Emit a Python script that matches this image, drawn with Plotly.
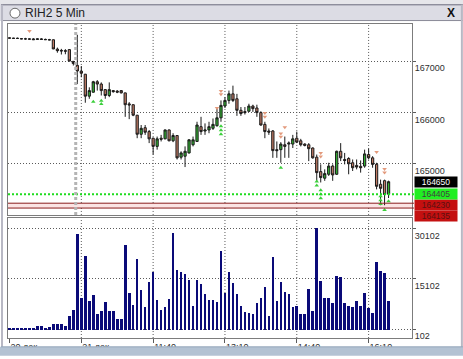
import plotly.graph_objects as go

# ---------------- data ----------------
bar_index = list(range(96))
opens = [167460, 167455, 167450, 167445, 167440, 167440, 167440, 167430, 167440, 167430,
         167425, 167423, 167240, 167215, 167210, 167231, 167000, 166923, 166810, 166750,
         166321, 166398, 166603, 166558, 166449, 166334, 166430, 166420, 166430, 166385,
         166170, 166154, 165949, 165577, 165705, 165629, 165500, 165340, 165500, 165487,
         165661, 165449, 165552, 165129, 165148, 165212, 165372, 165436, 165725, 165640,
         165661, 165693, 165744, 165898, 166129, 166238, 166366, 166270, 166045, 166020,
         166026, 166128, 166090, 166000, 165770, 165640, 165641, 165276, 165276, 165372,
         165385, 165385, 165500, 165449, 165385, 165372, 165308, 165129, 164847, 164718,
         164795, 164955, 164795, 165244, 165084, 165103, 165020, 164968, 164950, 164955,
         165180, 165116, 164990, 164600, 164670, 164405]
highs = [167465, 167460, 167465, 167450, 167460, 167450, 167455, 167450, 167455, 167445,
         167440, 167430, 167270, 167245, 167240, 167240, 167010, 167520, 166910, 166755,
         166494, 166620, 166635, 166590, 166455, 166590, 166440, 166440, 166440, 166390,
         166205, 166160, 165955, 165757, 165757, 165660, 165510, 165532, 165565, 165670,
         165670, 165597, 165560, 165244, 165340, 165480, 165532, 165821, 165917, 165789,
         165821, 165885, 166109, 166238, 166302, 166430, 166526, 166366, 166109, 166109,
         166173, 166154, 166154, 166026, 165821, 165690, 165660, 165436, 165423, 165532,
         165436, 165565, 165629, 165487, 165400, 165404, 165320, 165180, 164988, 164891,
         165020, 164988, 165257, 165404, 165212, 165129, 165084, 165084, 165065, 165276,
         165295, 165148, 165020, 164690, 164690, 164670]
lows = [167450, 167445, 167440, 167435, 167425, 167430, 167420, 167420, 167425, 167420,
        167415, 167240, 167170, 167135, 167140, 167000, 166920, 166558, 166690, 166193,
        166270, 166390, 166430, 166334, 166270, 166302, 166390, 166380, 166375, 165917,
        165872, 165930, 165500, 165500, 165565, 165404, 165180, 165276, 165436, 165480,
        165440, 165423, 165084, 165084, 164936, 165200, 165340, 165430, 165565, 165565,
        165597, 165661, 165725, 165821, 166090, 166173, 166206, 165936, 165936, 165962,
        166013, 166013, 165917, 165744, 165500, 165565, 165116, 165116, 165020, 165116,
        165116, 165308, 165404, 165340, 165340, 165052, 165100, 164667, 164635, 164667,
        164763, 164667, 164782, 165052, 164988, 164795, 164859, 164891, 164827, 164923,
        165084, 164923, 164500, 164190, 164190, 164330]
closes = [167455, 167450, 167450, 167440, 167440, 167435, 167425, 167440, 167430, 167425,
          167420, 167244, 167210, 167205, 167200, 167007, 166960, 166814, 166770, 166321,
          166430, 166603, 166558, 166430, 166334, 166449, 166410, 166400, 166385, 166154,
          166150, 165949, 165577, 165693, 165616, 165487, 165340, 165487, 165480, 165661,
          165449, 165552, 165116, 165212, 165244, 165468, 165468, 165757, 165629, 165660,
          165725, 165770, 165898, 166141, 166238, 166366, 166238, 166045, 165981, 166000,
          166128, 166077, 166000, 165757, 165629, 165620, 165257, 165257, 165385, 165340,
          165404, 165487, 165423, 165372, 165360, 165295, 165116, 164827, 164731, 164808,
          164955, 164782, 165244, 165116, 165065, 165000, 164923, 164936, 164923, 165193,
          165116, 164988, 164560, 164520, 164400, 164650]
volume = [300, 300, 300, 300, 590, 300, 490, 980, 980, 300,
          690, 1770, 1570, 1570, 980, 3920, 5880, 28420, 9510, 21860,
          8630, 10390, 4510, 5690, 8330, 5690, 5690, 3040, 3040, 25380,
          10980, 7450, 20970, 11860, 6860, 14210, 17150, 8920, 5980, 6860,
          9210, 28910, 17740, 17150, 16560, 14800, 7160, 14800, 13630, 10690,
          8920, 8920, 8330, 23330, 10980, 17150, 13920, 10690, 7160, 5390,
          5100, 4510, 8040, 9510, 12740, 3920, 21560, 8630, 14210, 11270,
          10690, 6860, 7160, 4510, 4510, 12160, 5690, 30380, 14510, 9510,
          9510, 8040, 15980, 15680, 8040, 7160, 6860, 8630, 7160, 10980,
          6570, 5100, 20090, 17450, 16860, 8630]

tick_pos = [0, 18, 36, 54, 72, 90]
tick_text = ["20 дек", "21 дек", "11:40", "13:10", "14:40", "16:10"]
price_ticks = [165000, 166000, 167000]
volume_ticks = [102, 15102, 30102]
session_break = 16.6

last_price = 164650
green_level = 164405
red_levels = [164230, 164135]

dn_mark_x = [5, 52, 53, 53, 64, 64, 68, 68, 69, 78, 78, 92, 94, 94]
dn_mark_y = [167596, 166090, 166420, 166360, 165990, 165920, 165590, 165530, 165712,
             165210, 165140, 165230, 164900, 164830]
up_mark_x = [21, 23, 23, 53, 53, 53, 68, 77, 77, 78, 78, 78, 93, 93, 93, 94, 95]
up_mark_y = [166212, 166230, 166170, 165731, 165654, 165577, 164923, 164654, 164577,
             164481, 164404, 164327, 164365, 164288, 164212, 164096, 164270]

# ---------------- figure ----------------
FONT = "Liberation Sans, Arial, sans-serif"
W, H = 463, 359
ML, MR, MT, MB = 7, 51, 24, 16
PW, PH = W - ML - MR, H - MT - MB


def px_x(px):
    return (px - ML) / PW


def px_y(py):
    return (H - MB - py) / PH


grid_dash = "1px,2px"
grid_col = "#5a5a5a"
frame_col = "#7c7c7c"

fig = go.Figure()

fig.add_trace(go.Candlestick(
    x=bar_index, open=opens, high=highs, low=lows, close=closes,
    xaxis="x", yaxis="y", whiskerwidth=0,
    increasing=dict(fillcolor="#33b033", line=dict(color="#1a1a1a", width=1)),
    decreasing=dict(fillcolor="#c07a64", line=dict(color="#1a1a1a", width=1)),
    showlegend=False, hoverinfo="skip"))

fig.add_trace(go.Scatter(
    x=dn_mark_x, y=dn_mark_y, mode="markers", xaxis="x", yaxis="y",
    marker=dict(symbol="triangle-down", size=4, color="#e39a7c"),
    showlegend=False, hoverinfo="skip"))
fig.add_trace(go.Scatter(
    x=up_mark_x, y=up_mark_y, mode="markers", xaxis="x", yaxis="y",
    marker=dict(symbol="triangle-up", size=4, color="#3ccf3c"),
    showlegend=False, hoverinfo="skip"))

fig.add_trace(go.Bar(
    x=bar_index, y=volume, xaxis="x2", yaxis="y2", width=0.65,
    marker=dict(color="#0a0a78", line=dict(width=0)),
    showlegend=False, hoverinfo="skip"))

axis_common = dict(showline=True, mirror=True, linecolor=frame_col, linewidth=1,
                   zeroline=False, fixedrange=True)

fig.update_layout(
    width=W, height=H,
    margin=dict(l=ML, r=MR, t=MT, b=MB, pad=0),
    paper_bgcolor="white", plot_bgcolor="white",
    font=dict(family=FONT, size=9, color="#303030"),
    boxgap=0.25, boxgroupgap=0.25,
    bargap=0,
    xaxis=dict(domain=[0, 1], anchor="y", range=[-0.375, 100.875],
               showticklabels=False, showgrid=False, ticks="",
               rangeslider=dict(visible=False), **axis_common),
    yaxis=dict(domain=[px_y(218), 1], anchor="x", side="right",
               range=[164000, 167731], tickvals=price_ticks,
               ticktext=[str(v) for v in price_ticks],
               showgrid=True, gridcolor=grid_col, griddash=grid_dash, gridwidth=1,
               ticks="outside", ticklen=3, tickcolor=grid_col,
               ticklabelposition="outside bottom",
               tickfont=dict(family=FONT, size=9, color="#303030"),
               **axis_common),
    xaxis2=dict(domain=[0, 1], anchor="y2", matches="x", range=[-0.375, 100.875],
                tickvals=tick_pos, ticktext=tick_text, showgrid=False,
                ticks="outside", ticklen=4, tickcolor=grid_col,
                ticklabelposition="outside right",
                tickfont=dict(family=FONT, size=9, color="#303030"),
                **axis_common),
    yaxis2=dict(domain=[0, px_y(221)], anchor="x2", side="right",
                range=[-2544, 33324], tickvals=volume_ticks,
                ticktext=[str(v) for v in volume_ticks],
                showgrid=True, gridcolor=grid_col, griddash=grid_dash, gridwidth=1,
                ticks="outside", ticklen=3, tickcolor=grid_col,
                ticklabelposition="outside bottom",
                tickfont=dict(family=FONT, size=9, color="#303030"),
                **axis_common),
)

shapes = []
# vertical dotted gridlines
for t in tick_pos[1:]:
    for yr in ("y domain", "y2 domain"):
        shapes.append(dict(type="line", xref="x", yref=yr, x0=t, x1=t, y0=0, y1=1,
                           line=dict(color=grid_col, width=1, dash=grid_dash), layer="below"))
# red band and lines
shapes.append(dict(type="rect", xref="paper", yref="y", x0=0, x1=1,
                   y0=red_levels[1], y1=red_levels[0], fillcolor="#fbe4e4",
                   line=dict(width=0), layer="below"))
for lv in red_levels:
    shapes.append(dict(type="line", xref="paper", yref="y", x0=0, x1=px_x(414), y0=lv, y1=lv,
                       line=dict(color="#8a1c1c", width=1)))
# green level
shapes.append(dict(type="line", xref="paper", yref="y", x0=0, x1=px_x(414),
                   y0=green_level, y1=green_level,
                   line=dict(color="#1fdc1f", width=2, dash="2px,2px")))
# session separator
shapes.append(dict(type="line", xref="x", yref="y domain", x0=session_break, x1=session_break,
                   y0=0, y1=1, line=dict(color="#b4b4b4", width=3, dash="3px,2px"), layer="above"))

# window chrome: title bar
shapes.append(dict(type="rect", xref="paper", yref="paper", x0=px_x(-2), x1=px_x(W + 2),
                   y0=px_y(21), y1=px_y(-2), fillcolor="#dcdce4", line=dict(width=0), layer="above"))
shapes.append(dict(type="rect", xref="paper", yref="paper", x0=px_x(-2), x1=px_x(W + 2),
                   y0=px_y(4), y1=px_y(-2), fillcolor="#e6e6ea", line=dict(width=0), layer="above"))
shapes.append(dict(type="line", xref="paper", yref="paper", x0=px_x(0), x1=px_x(W),
                   y0=px_y(4.5), y1=px_y(4.5), line=dict(color="#6c6c7c", width=1), layer="above"))
shapes.append(dict(type="line", xref="paper", yref="paper", x0=px_x(0), x1=px_x(W),
                   y0=px_y(20.5), y1=px_y(20.5), line=dict(color="#8a8a98", width=1), layer="above"))
shapes.append(dict(type="circle", xref="paper", yref="paper", x0=px_x(9), x1=px_x(19),
                   y0=px_y(18), y1=px_y(8), fillcolor="white",
                   line=dict(color="#6a6a6a", width=1), layer="above"))
# side borders
shapes.append(dict(type="line", xref="paper", yref="paper", x0=px_x(1), x1=px_x(1),
                   y0=px_y(H), y1=px_y(4.5), line=dict(color="#b8b8c4", width=2), layer="above"))
shapes.append(dict(type="line", xref="paper", yref="paper", x0=px_x(462), x1=px_x(462),
                   y0=px_y(H), y1=px_y(4.5), line=dict(color="#b8b8c4", width=2), layer="above"))
# bottom strip
shapes.append(dict(type="rect", xref="paper", yref="paper", x0=px_x(-2), x1=px_x(W + 2),
                   y0=px_y(H + 2), y1=px_y(352), fillcolor="#b3c2d3",
                   line=dict(width=0), layer="above"))
shapes.append(dict(type="line", xref="paper", yref="paper", x0=px_x(0), x1=px_x(W),
                   y0=px_y(352), y1=px_y(352), line=dict(color="#93a5ba", width=1), layer="above"))

fig.update_layout(shapes=shapes)

ann = []
ann.append(dict(text="RIH2 5 Min", xref="paper", yref="paper", x=px_x(22), y=px_y(13),
                xanchor="left", yanchor="middle", showarrow=False,
                font=dict(family=FONT, size=12, color="#222222")))
ann.append(dict(text="<b>X</b>", xref="paper", yref="paper", x=px_x(451), y=px_y(13),
                xanchor="center", yanchor="middle", showarrow=False,
                font=dict(family=FONT, size=12, color="#111111")))
# right-hand price labels, stacked so they do not overlap
label_specs = [(red_levels[1], "#c41010", "#5a1010", -8),
               (red_levels[0], "#c41010", "#5a1010", -1.5),
               (green_level, "#22ee22", "#404040", 0.5),
               (last_price, "#000000", "#ffffff", 0)]
for val, bg, fg, shift in label_specs:
    ann.append(dict(text=str(val), xref="paper", yref="y", x=px_x(414), y=val,
                    yshift=shift, xanchor="left", yanchor="middle", showarrow=False,
                    width=42, align="center", bgcolor=bg, borderpad=0,
                    font=dict(family=FONT, size=8.5, color=fg)))
fig.update_layout(annotations=ann)

fig.write_html("out.html")
